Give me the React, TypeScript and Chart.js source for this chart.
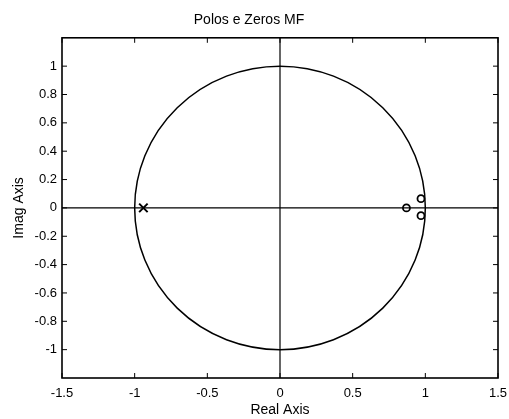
import React, { useEffect, useRef } from "react";
import { Chart, registerables } from "chart.js";

Chart.register(...registerables);

const titleText = "Polos e Zeros MF";
const xAxisTitle = "Real Axis";
const yAxisTitle = "Imag Axis";

const xTicks = [-1.5, -1, -0.5, 0, 0.5, 1, 1.5];
const yTicks = [-1, -0.8, -0.6, -0.4, -0.2, 0, 0.2, 0.4, 0.6, 0.8, 1];
const xRange = [-1.5, 1.5];
const yRange = [-1.2, 1.2];

const poleRe = [-0.94];
const poleIm = [0];
const zeroRe = [0.87, 0.97, 0.97];
const zeroIm = [0, 0.065, -0.055];

const unitCircleRadius = 1;

const FONT = "'Liberation Sans', Arial, Helvetica, sans-serif";

const framePlugin = {
  id: "frame",
  beforeDatasetsDraw(chart: any) {
    const { ctx, chartArea: a, scales } = chart;
    const xs = scales.x;
    const ys = scales.y;
    ctx.save();
    ctx.strokeStyle = "#000";
    ctx.lineWidth = 1.2;
    const x0 = xs.getPixelForValue(0);
    const y0 = ys.getPixelForValue(0);
    ctx.beginPath();
    ctx.moveTo(a.left, y0);
    ctx.lineTo(a.right, y0);
    ctx.moveTo(x0, a.top);
    ctx.lineTo(x0, a.bottom);
    ctx.stroke();
    const rx = Math.abs(xs.getPixelForValue(unitCircleRadius) - x0);
    const ry = Math.abs(ys.getPixelForValue(unitCircleRadius) - y0);
    ctx.lineWidth = 1.5;
    ctx.beginPath();
    ctx.ellipse(x0, y0, rx, ry, 0, 0, Math.PI * 2);
    ctx.stroke();
    ctx.lineWidth = 1.6;
    ctx.strokeRect(a.left, a.top, a.right - a.left, a.bottom - a.top);
    const tl = 5;
    ctx.lineWidth = 1;
    ctx.beginPath();
    xTicks.forEach((v) => {
      const px = xs.getPixelForValue(v);
      ctx.moveTo(px, a.bottom);
      ctx.lineTo(px, a.bottom - tl);
      ctx.moveTo(px, a.top);
      ctx.lineTo(px, a.top + tl);
    });
    yTicks.forEach((v) => {
      const py = ys.getPixelForValue(v);
      ctx.moveTo(a.left, py);
      ctx.lineTo(a.left + tl, py);
      ctx.moveTo(a.right, py);
      ctx.lineTo(a.right - tl, py);
    });
    ctx.stroke();
    ctx.restore();
  },
};

export default function App() {
  const ref = useRef<HTMLCanvasElement | null>(null);
  useEffect(() => {
    if (!ref.current) return;
    const chart = new Chart(ref.current, {
      type: "scatter",
      data: {
        datasets: [
          {
            label: "Poles",
            data: poleRe.map((re, i) => ({ x: re, y: poleIm[i] })),
            pointStyle: "crossRot",
            pointRadius: 6,
            borderColor: "#000",
            backgroundColor: "#000",
            pointBorderWidth: 2,
          },
          {
            label: "Zeros",
            data: zeroRe.map((re, i) => ({ x: re, y: zeroIm[i] })),
            pointStyle: "circle",
            pointRadius: 3.5,
            borderColor: "#000",
            backgroundColor: "rgba(0,0,0,0)",
            pointBorderWidth: 1.8,
          },
        ],
      },
      options: {
        animation: false,
        responsive: false,
        maintainAspectRatio: false,
        layout: { padding: { left: 0, right: 11, top: 0, bottom: 0 } },
        plugins: {
          legend: { display: false },
          tooltip: { enabled: false },
          title: {
            display: true,
            text: titleText,
            color: "#000",
            font: { family: FONT, size: 14, weight: "normal" },
            padding: { top: 12, bottom: 9 },
          },
        },
        scales: {
          x: {
            type: "linear",
            min: xRange[0],
            max: xRange[1],
            afterBuildTicks: (s: any) => {
              s.ticks = xTicks.map((v) => ({ value: v }));
            },
            afterFit: (s: any) => {
              s.height = 41;
              s.paddingLeft = 0;
              s.paddingRight = 0;
            },
            grid: { display: false, drawTicks: false },
            border: { display: false },
            ticks: {
              color: "#000",
              padding: 8,
              maxRotation: 0,
              autoSkip: false,
              font: { family: FONT, size: 13 },
              callback: (v: any) => String(v),
            },
            title: {
              display: true,
              text: xAxisTitle,
              color: "#000",
              font: { family: FONT, size: 14 },
              padding: { top: 0, bottom: 0 },
            },
          },
          y: {
            type: "linear",
            min: yRange[0],
            max: yRange[1],
            afterBuildTicks: (s: any) => {
              s.ticks = yTicks.map((v) => ({ value: v }));
            },
            afterFit: (s: any) => {
              s.width = 62;
              s.paddingTop = 0;
              s.paddingBottom = 0;
            },
            grid: { display: false, drawTicks: false },
            border: { display: false },
            ticks: {
              color: "#000",
              padding: 5,
              autoSkip: false,
              font: { family: FONT, size: 13 },
              callback: (v: any) => String(Math.round(v * 10) / 10),
            },
            title: {
              display: true,
              text: yAxisTitle,
              color: "#000",
              font: { family: FONT, size: 14 },
              padding: { top: 10.5, bottom: 0 },
            },
          },
        },
      },
      plugins: [framePlugin],
    });
    return () => chart.destroy();
  }, []);
  return (
    <div style={{ position: "fixed", left: 0, top: 0, width: 509, height: 419, background: "#fff" }}>
      <canvas ref={ref} width={509} height={419} style={{ width: 509, height: 419 }} />
    </div>
  );
}
